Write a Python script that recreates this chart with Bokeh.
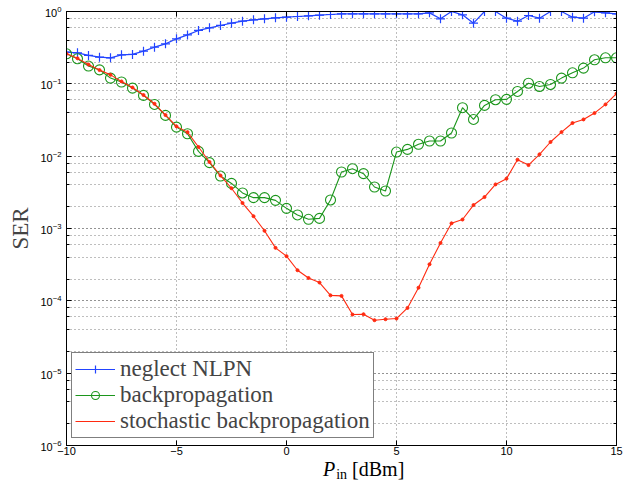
from bokeh.plotting import figure
from bokeh.layouts import column
from bokeh.models import (LogAxis, LinearAxis, Legend, LegendItem, FixedTicker,
                          LogTicker, CustomJSTickFormatter, ColumnDataSource, Div)
from bokeh.embed import file_html
from bokeh.resources import INLINE

p_in = [-10, -9.5, -9, -8.5, -8, -7.5, -7, -6.5, -6, -5.5, -5, -4.5, -4, -3.5, -3, -2.5, -2,
        -1.5, -1, -0.5, 0, 0.5, 1, 1.5, 2, 2.5, 3, 3.5, 4, 4.5, 5, 5.5, 6, 6.5, 7, 7.5, 8,
        8.5, 9, 9.5, 10, 10.5, 11, 11.5, 12, 12.5, 13, 13.5, 14, 14.5, 15]

ser_neglect = [0.274, 0.268, 0.247, 0.234, 0.229, 0.252, 0.255, 0.283, 0.321, 0.357, 0.419,
               0.475, 0.547, 0.594, 0.641, 0.69, 0.735, 0.767, 0.792, 0.817, 0.835, 0.853,
               0.871, 0.889, 0.909, 0.925, 0.93, 0.93, 0.93, 0.93, 0.93, 0.93, 0.93, 0.958,
               0.792, 1.0, 0.899, 0.69, 1.0, 1.0, 0.809, 0.735, 0.881, 0.809, 1.0, 1.0, 0.835,
               0.809, 0.99, 0.958, 0.93]

ser_backprop = [0.260, 0.222, 0.176, 0.156, 0.120, 0.106, 0.0873, 0.0692, 0.0519, 0.0366,
                0.0252, 0.0204, 0.01164, 0.00813, 0.00531, 0.0042, 0.0031, 0.00267, 0.00267,
                0.00245, 0.0019, 0.00154, 0.00134, 0.00138, 0.00248, 0.00604, 0.00671,
                0.00573, 0.00375, 0.0033, 0.0114, 0.0124, 0.0146, 0.0162, 0.0162, 0.0209,
                0.0468, 0.0322, 0.0503, 0.0603, 0.061, 0.0785, 0.102, 0.092, 0.098, 0.120,
                0.142, 0.165, 0.215, 0.229, 0.229]

ser_stochastic = [0.26, 0.225, 0.185, 0.155, 0.133, 0.108, 0.089, 0.070, 0.053, 0.037,
                  0.0258, 0.0215, 0.0134, 0.0083, 0.0054, 0.0036, 0.00225, 0.00148, 0.00093,
                  0.00054, 0.000415, 0.000265, 0.000207, 0.000179, 0.000119, 0.000117,
                  6.46e-5, 6.53e-5, 5.40e-5, 5.57e-5, 5.69e-5, 7.98e-5, 1.52e-4, 3.20e-4,
                  6.31e-4, 1.18e-3, 1.33e-3, 2.11e-3, 2.72e-3, 4.07e-3, 4.89e-3, 8.93e-3,
                  7.53e-3, 0.0106, 0.0157, 0.0215, 0.0287, 0.0322, 0.0394, 0.0519, 0.0730]

series_names = ["neglect NLPN", "backpropagation", "stochastic backpropagation"]
x_ticks = [-10, -5, 0, 5, 10, 15]
x_tick_labels = ["\u221210", "\u22125", "0", "5", "10", "15"]
x_label_parts = ["P", "in", "[dBm]"]
y_label = "SER"

BLUE = "#2244ff"
GREEN = "#1c961c"
RED = "#ff2a10"
SERIF = "Liberation Serif"
SANS = "Liberation Sans"

p = figure(width=631, height=459, y_axis_type="log", x_range=(-10, 15), y_range=(1e-6, 1),
           output_backend="svg", toolbar_location=None, title=None,
           min_border_left=66, min_border_right=15, min_border_top=11, min_border_bottom=14)
p.outline_line_color = "black"
p.outline_line_width = 1

src = ColumnDataSource(dict(x=p_in, a=ser_neglect, b=ser_backprop, c=ser_stochastic))

l1 = p.line("x", "a", source=src, line_color=BLUE, line_width=1.2)
m1 = p.scatter("x", "a", source=src, marker="cross", size=9, line_color=BLUE, line_width=1.2)
l2 = p.line("x", "b", source=src, line_color=GREEN, line_width=1.1)
m2 = p.scatter("x", "b", source=src, marker="circle", size=10, line_color=GREEN,
               fill_color=None, line_width=1.1)
l3 = p.line("x", "c", source=src, line_color=RED, line_width=1.1)
m3 = p.scatter("x", "c", source=src, marker="circle", size=3, line_color=RED, fill_color=RED)

# axes
xa = p.xaxis[0]
xa.ticker = FixedTicker(ticks=x_ticks)
xa.major_label_overrides = dict(zip(x_ticks, x_tick_labels))
ya = p.yaxis[0]
ya.ticker = LogTicker(desired_num_ticks=8)
for ax in (xa, ya):
    ax.major_tick_in = 5
    ax.major_tick_out = 0
    ax.minor_tick_in = 3
    ax.minor_tick_out = 0
    ax.axis_line_color = "black"
    ax.major_tick_line_color = "black"
    ax.major_label_text_font = SANS
    ax.major_label_text_font_size = "11px"
    ax.major_label_text_color = "black"
    ax.major_label_standoff = 5
xa.minor_tick_line_color = None
xa.major_label_standoff = 1

ya.axis_label = y_label
ya.axis_label_text_font = SERIF
ya.axis_label_text_font_size = "23px"
ya.axis_label_text_font_style = "normal"
ya.axis_label_standoff = 4

# tick-only axes on the right and top (box style)
empty = CustomJSTickFormatter(code="return ''")
ra = LogAxis(ticker=LogTicker(desired_num_ticks=8), formatter=empty, major_tick_in=5,
             major_tick_out=0, minor_tick_in=3, minor_tick_out=0, major_label_standoff=0,
             major_label_text_font_size="1px")
p.add_layout(ra, "right")
ta = LinearAxis(ticker=FixedTicker(ticks=x_ticks), formatter=empty, major_tick_in=5,
                major_tick_out=0, minor_tick_line_color=None, major_label_standoff=0,
                major_label_text_font_size="1px")
p.add_layout(ta, "above")

# grid
for g in (p.xgrid[0], p.ygrid[0]):
    g.grid_line_color = "#444444"
    g.grid_line_dash = "1 3"
    g.grid_line_alpha = 0.7
p.ygrid[0].minor_grid_line_color = "#444444"
p.ygrid[0].minor_grid_line_dash = "1 3"
p.ygrid[0].minor_grid_line_alpha = 0.7

legend = Legend(items=[LegendItem(label=series_names[0], renderers=[l1, m1]),
                       LegendItem(label=series_names[1], renderers=[l2, m2]),
                       LegendItem(label=series_names[2], renderers=[l3])],
                location=(5, 7), border_line_color="black", border_line_width=1,
                background_fill_color="white", background_fill_alpha=1,
                label_text_font=SERIF, label_text_font_size="23px",
                label_text_line_height=0.9,
                glyph_width=40, glyph_height=20, label_height=20, label_standoff=5,
                padding=3, spacing=0, margin=0)
p.add_layout(legend, "center")

# x-axis title below the plot as HTML text (not clipped): italic P, lowered "in", [dBm]
title_html = (
    '<div style="padding-left:323px; font-family:\'Liberation Serif\', serif; '
    'font-size:20px; line-height:21px; white-space:nowrap; color:black; margin:0;">'
    '<i>%s</i><span style="font-size:14px; position:relative; top:3px; '
    'margin-left:1px;">%s</span> %s</div>' % tuple(x_label_parts)
)
xlabel = Div(text=title_html, width=631, height=21, margin=0,
             styles={"overflow": "visible"})

layout = column(p, xlabel, spacing=0)
open("out.html", "w").write(file_html(layout, INLINE))
